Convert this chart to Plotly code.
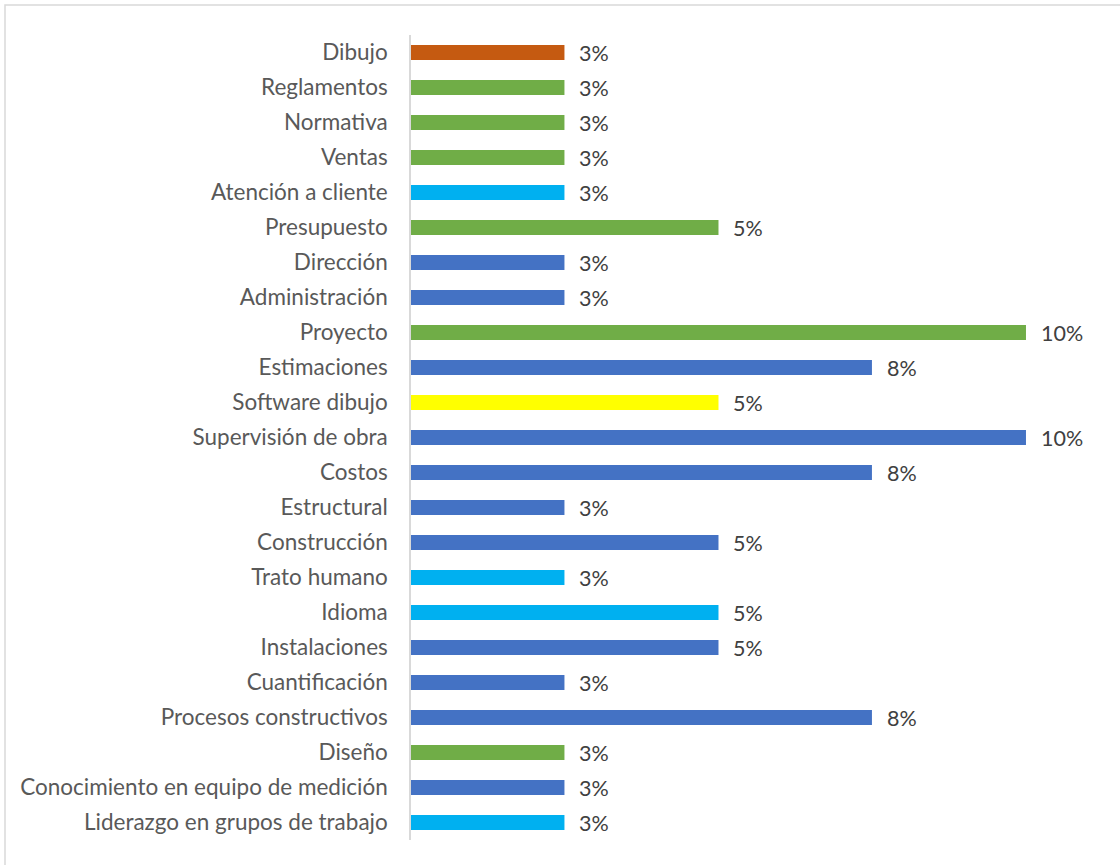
import plotly.graph_objects as go

# Competencias (orden de lectura, de arriba hacia abajo)
categorias = [
    "Dibujo", "Reglamentos", "Normativa", "Ventas", "Atención a cliente",
    "Presupuesto", "Dirección", "Administración", "Proyecto", "Estimaciones",
    "Software dibujo", "Supervisión de obra", "Costos", "Estructural",
    "Construcción", "Trato humano", "Idioma", "Instalaciones",
    "Cuantificación", "Procesos constructivos", "Diseño",
    "Conocimiento en equipo de medición", "Liderazgo en grupos de trabajo",
]

# Proporción de menciones por competencia
porcentajes = [
    0.0256, 0.0256, 0.0256, 0.0256, 0.0256,
    0.0513, 0.0256, 0.0256, 0.1026, 0.0769,
    0.0513, 0.1026, 0.0769, 0.0256,
    0.0513, 0.0256, 0.0513, 0.0513,
    0.0256, 0.0769, 0.0256,
    0.0256, 0.0256,
]

# Color de cada barra
colores = [
    "#C55A11", "#70AD47", "#70AD47", "#70AD47", "#00B0F0",
    "#70AD47", "#4472C4", "#4472C4", "#70AD47", "#4472C4",
    "#FFFF00", "#4472C4", "#4472C4", "#4472C4",
    "#4472C4", "#00B0F0", "#00B0F0", "#4472C4",
    "#4472C4", "#4472C4", "#70AD47",
    "#4472C4", "#00B0F0",
]

W, H = 1120, 865
M_L, M_R, M_T, M_B = 411, 20, 35, 25
FONT = "Lato"

fig = go.Figure(
    go.Bar(
        x=porcentajes,
        y=categorias,
        orientation="h",
        marker=dict(color=colores, line=dict(width=0)),
        width=0.43,
        hoverinfo="skip",
    )
)

# Etiquetas de valor a la derecha de cada barra
for cat, val in zip(categorias, porcentajes):
    fig.add_annotation(
        x=val, y=cat, xref="x", yref="y",
        text=f"{val:.0%}", showarrow=False,
        xanchor="left", yanchor="middle", xshift=13,
        font=dict(family=FONT, size=21.5, color="#404040"),
    )

# Marco del área del gráfico
pw = W - M_L - M_R
ph = H - M_T - M_B
fig.add_shape(
    type="rect", xref="paper", yref="paper",
    x0=(5 - M_L) / pw, x1=(W + 10 - M_L) / pw,
    y0=(H - M_B - (H + 10)) / ph, y1=(H - M_B - 5) / ph,
    line=dict(color="#D9D9D9", width=1.5), fillcolor="rgba(0,0,0,0)",
    layer="below",
)

fig.update_layout(
    width=W, height=H,
    margin=dict(l=M_L, r=M_R, t=M_T, b=M_B),
    paper_bgcolor="white", plot_bgcolor="white",
    showlegend=False,
    font=dict(family=FONT, size=22.5, color="#595959"),
    xaxis=dict(
        range=[0, pw / 5994],
        visible=False, showgrid=False, zeroline=False, fixedrange=True,
    ),
    yaxis=dict(
        autorange="reversed", showgrid=False, zeroline=False,
        showline=True, linecolor="#D9D9D9", linewidth=1.5,
        ticks="", ticklabelstandoff=17,
        tickfont=dict(family=FONT, size=22.5, color="#595959"),
    ),
)

fig.write_html("out.html")
